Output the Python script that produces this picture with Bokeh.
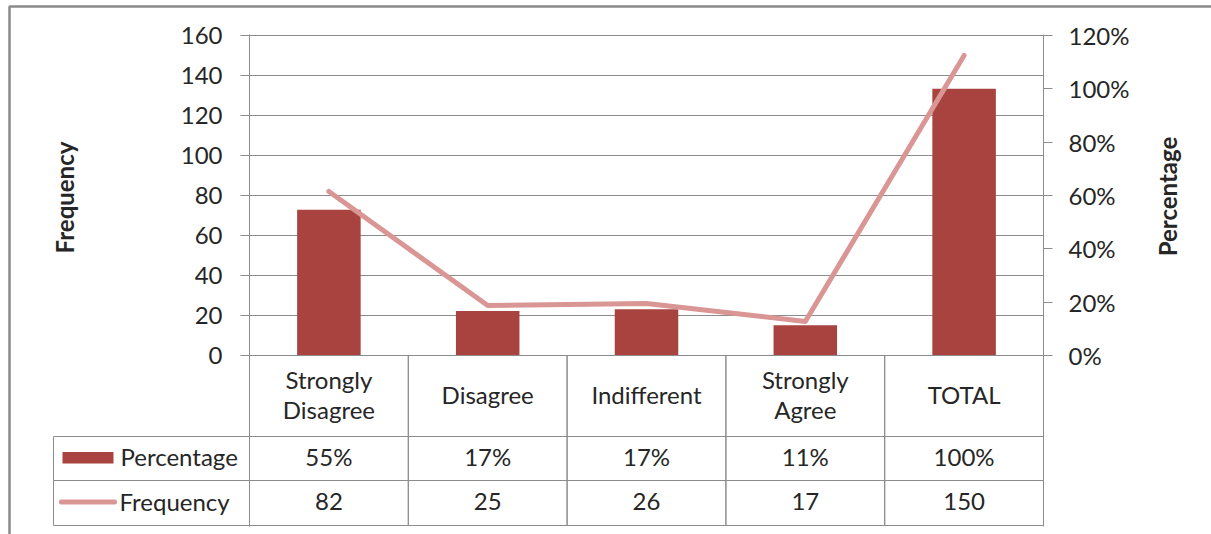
from bokeh.plotting import figure
from bokeh.models import (Range1d, FactorRange, LinearAxis, FixedTicker,
                          PrintfTickFormatter)
from bokeh.core.properties import value
from bokeh.embed import file_html
from bokeh.resources import INLINE

# ---------------- data ----------------
categories = ["Strongly Disagree", "Disagree", "Indifferent", "Strongly Agree", "TOTAL"]
category_labels = ["Strongly\nDisagree", "Disagree", "Indifferent", "Strongly\nAgree", "TOTAL"]
percentage = [54.7, 16.7, 17.3, 11.3, 100.0]      # bars, right axis (%)
frequency = [82, 25, 26, 17, 150]                 # line, left axis
freq_ticks = [0, 20, 40, 60, 80, 100, 120, 140, 160]
pct_ticks = [0, 20, 40, 60, 80, 100, 120]
series_names = ["Percentage", "Frequency"]
axis_titles = ["Frequency", "Percentage"]

# ---------------- style ----------------
FONT = "Lato"
TEXT = "#262626"
GRID = "#8c8c8c"
BAR = "#A8433F"
LINE = "#D99694"
FS = "24px"

W, H = 1211, 534
FRAME_L, FRAME_R, FRAME_T, FRAME_B = 249, 1043, 34, 526
ZERO_PY, PX_PER_UNIT = 355, 2.0
COL_PX = (FRAME_R - FRAME_L) / len(categories)
RATIO = 120 / 160          # percent units per frequency unit


def sx(px):
    """page x pixel -> synthetic categorical coordinate"""
    return (px - FRAME_L) / COL_PX


def sy(py):
    """page y pixel -> frequency-axis coordinate"""
    return (ZERO_PY - py) / PX_PER_UNIT


Y_LO, Y_HI = sy(FRAME_B), sy(FRAME_T)

p = figure(width=W, height=H,
           x_range=FactorRange(*categories, range_padding=0, factor_padding=0),
           y_range=Range1d(Y_LO, Y_HI),
           output_backend="svg", toolbar_location=None,
           x_axis_location=None,
           min_border_left=FRAME_L, min_border_right=W - FRAME_R,
           min_border_top=FRAME_T, min_border_bottom=H - FRAME_B)
p.extra_y_ranges = {"pct": Range1d(Y_LO * RATIO, Y_HI * RATIO)}
p.outline_line_color = None
p.background_fill_color = "white"
p.border_fill_color = "white"


def style_axis(a, standoff):
    a.minor_tick_line_color = None
    a.major_tick_in = 0
    a.major_tick_out = 9
    a.axis_line_color = GRID
    a.major_tick_line_color = GRID
    a.major_label_standoff = standoff
    a.major_label_text_font = FONT
    a.major_label_text_font_size = FS
    a.major_label_text_color = TEXT


# left axis (frequency)
ax = p.yaxis[0]
ax.ticker = FixedTicker(ticks=freq_ticks)
style_axis(ax, 18)

# right axis (percentage)
ax2 = LinearAxis(y_range_name="pct", ticker=FixedTicker(ticks=pct_ticks),
                 formatter=PrintfTickFormatter(format="%d%%"))
style_axis(ax2, 16)
p.add_layout(ax2, "right")

p.ygrid.grid_line_color = GRID
p.xgrid.grid_line_color = None

# bars and line
p.vbar(x=categories, top=percentage, width=0.4, y_range_name="pct",
       fill_color=BAR, line_color=None)
p.line(x=categories, y=frequency, line_color=LINE, line_width=5,
       line_cap="round", line_join="round")

# ---------------- data table ----------------
row_edges = [0, sy(436), sy(480), sy(525)]
for i in range(3):
    top, bot = row_edges[i], row_edges[i + 1]
    p.rect(x=categories, y=[(top + bot) / 2] * len(categories), width=1,
           height=top - bot, fill_color=None, line_color=GRID, line_width=1,
           level="overlay")

TEXT_SHIFT = 1.0   # data units (2 px) to lift text slightly
text_kw = dict(text_font=value(FONT), text_font_size=FS, text_color=TEXT,
               text_align="center", text_baseline="middle")
p.text(x=categories, y=[sy(394)] * 5, text=category_labels,
       text_line_height=1.05, **text_kw)
p.text(x=categories, y=[(row_edges[1] + row_edges[2]) / 2 + TEXT_SHIFT] * 5,
       text=[f"{round(v)}%" for v in percentage], **text_kw)
p.text(x=categories, y=[(row_edges[2] + row_edges[3]) / 2 + TEXT_SHIFT] * 5,
       text=[str(v) for v in frequency], **text_kw)

# legend column of the table (drawn above the frame clip)
leg_l, leg_r = sx(53), 0.0
for i in (1, 2):
    top, bot = row_edges[i], row_edges[i + 1]
    p.rect(x=[(leg_l + leg_r) / 2], y=[(top + bot) / 2], width=leg_r - leg_l,
           height=top - bot, fill_color=None, line_color=GRID, line_width=1,
           level="overlay")
# swatch for the bar series
p.rect(x=[(sx(62) + sx(113)) / 2], y=[(sy(451.5) + sy(463)) / 2],
       width=sx(113) - sx(62), height=sy(451.5) - sy(463),
       fill_color=BAR, line_color=None, level="overlay")
# swatch for the line series
p.line(x=[sx(61), sx(114)], y=[sy(501.5), sy(501.5)], line_color=LINE,
       line_width=5, line_cap="round", level="overlay")
p.text(x=[sx(120), sx(119)],
       y=[(row_edges[1] + row_edges[2]) / 2 + TEXT_SHIFT,
          (row_edges[2] + row_edges[3]) / 2 + TEXT_SHIFT],
       text=series_names, text_font=value(FONT), text_font_size=FS,
       text_color=TEXT, text_align="left", text_baseline="middle",
       level="overlay")

# axis titles (rotated, reading upwards)
p.text(x=[sx(64), sx(1167)], y=[sy(197), sy(196)], text=axis_titles,
       angle=90, angle_units="deg",
       text_font=value(FONT), text_font_size=FS, text_font_style="bold",
       text_color=TEXT, text_align="center", text_baseline="middle",
       level="overlay")

# outer chart border (left and top edges visible)
p.line(x=[sx(9), sx(9), sx(1230)], y=[sy(560), sy(6), sy(6)],
       line_color="#8a8a8a", line_width=2.5, level="overlay")

open("out.html", "w").write(file_html(p, INLINE))
